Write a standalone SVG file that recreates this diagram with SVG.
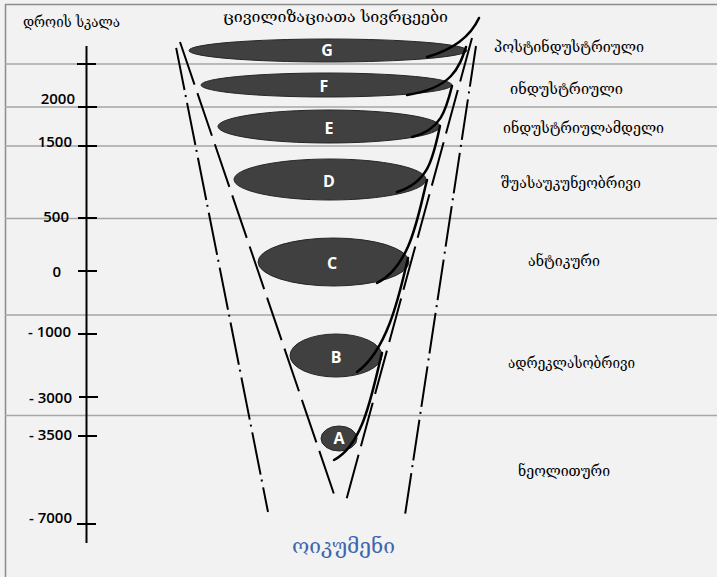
<svg xmlns="http://www.w3.org/2000/svg" width="717" height="577" viewBox="0 0 717 577">
<style>
.grid{stroke:#a6a6a6;stroke-width:1.5}
.frame{stroke:#8c8c8c;stroke-width:1.5}
.axis{stroke:#000;stroke-width:2}
.num{font-family:"Open Sans","Liberation Sans",sans-serif;font-weight:600;font-size:15px;fill:#000;text-anchor:end}
.geo{font-family:"DejaVu Serif","DejaVu Sans",serif;font-size:14px;fill:#000}
.ell{fill:#404040;stroke:#262626;stroke-width:1}
.let{font-family:"Open Sans","Liberation Sans",sans-serif;font-weight:700;font-size:16px;fill:#fff;text-anchor:middle}
.outer{stroke:#000;stroke-width:2;fill:none}
.inner{stroke:#000;stroke-width:2;fill:none;stroke-dasharray:45 9}
.spiral{stroke:#000;stroke-width:2.5;fill:none;stroke-linecap:round}
</style>
<rect x="0" y="0" width="717" height="577" fill="#f2f2f2"/>
<g id="frame">
<line class="frame" x1="5" y1="4.5" x2="717" y2="4.5"/>
<line class="frame" x1="5.5" y1="4" x2="5.5" y2="577"/>
</g>
<g id="grid">
<line class="grid" x1="5" y1="64" x2="717" y2="64"/>
<line class="grid" x1="5" y1="107" x2="717" y2="107"/>
<line class="grid" x1="5" y1="146" x2="717" y2="146"/>
<line class="grid" x1="5" y1="218.5" x2="717" y2="218.5"/>
<line class="grid" x1="5" y1="315" x2="717" y2="315"/>
<line class="grid" x1="5" y1="415.5" x2="717" y2="415.5"/>
</g>
<g id="axis">
<line class="axis" x1="86.5" y1="46" x2="86.5" y2="543"/>
<line class="axis" x1="77" y1="64" x2="96" y2="64"/>
<line class="axis" x1="78" y1="107" x2="97" y2="107"/>
<line class="axis" x1="78" y1="146" x2="97" y2="146"/>
<line class="axis" x1="78" y1="218" x2="97" y2="218"/>
<line class="axis" x1="78" y1="271" x2="97" y2="271"/>
<line class="axis" x1="78" y1="334" x2="97" y2="334"/>
<line class="axis" x1="79" y1="397" x2="98" y2="397"/>
<line class="axis" x1="78" y1="436" x2="97" y2="436"/>
<line class="axis" x1="77" y1="524" x2="96" y2="524"/>
<text class="num" x="75" y="104">2000</text>
<text class="num" x="72" y="147">1500</text>
<text class="num" x="69" y="222">500</text>
<text class="num" x="61" y="277">0</text>
<text class="num" x="71" y="337">- 1000</text>
<text class="num" x="72" y="403">- 3000</text>
<text class="num" x="72" y="440">- 3500</text>
<text class="num" x="72" y="523">- 7000</text>
<text class="geo" x="23" y="27" textLength="97" lengthAdjust="spacingAndGlyphs">დროის სკალა</text>
</g>
<text class="geo" x="223" y="22" textLength="225" lengthAdjust="spacingAndGlyphs" style="font-size:15px">ცივილიზაციათა  სივრცეები</text>
<g id="node-G"><ellipse class="ell" cx="328" cy="50.5" rx="139" ry="11.5"/><text class="let" x="327" y="56">G</text></g>
<g id="node-F"><ellipse class="ell" cx="326.5" cy="85" rx="125.5" ry="12"/><text class="let" x="324" y="92">F</text></g>
<g id="node-E"><ellipse class="ell" cx="329" cy="126.5" rx="111" ry="16.5"/><text class="let" x="329" y="134">E</text></g>
<g id="node-D"><ellipse class="ell" cx="330" cy="179.5" rx="96" ry="20.5"/><text class="let" x="329" y="187">D</text></g>
<g id="node-C"><ellipse class="ell" cx="333.5" cy="262" rx="75.5" ry="24"/><text class="let" x="332" y="269">C</text></g>
<g id="node-B"><ellipse class="ell" cx="336" cy="355.5" rx="46" ry="21.5"/><text class="let" x="336" y="363">B</text></g>
<g id="node-A"><ellipse class="ell" cx="339" cy="438.5" rx="18" ry="12.5"/><text class="let" x="339" y="444">A</text></g>
<g id="connectors">
<line class="outer" x1="175" y1="42" x2="268" y2="512" stroke-dasharray="43 5 2 6" stroke-dashoffset="-6"/>
<line class="inner" x1="180" y1="42" x2="336" y2="500"/>
<line class="inner" x1="472" y1="38" x2="346" y2="501"/>
<line class="outer" x1="476" y1="46" x2="405" y2="515" stroke-dasharray="41 5 2 6"/>
<path class="spiral" d="M479,18 Q466,46 427,57"/>
<path class="spiral" d="M466,47 C459,68 452,88 407,95"/>
<path class="spiral" d="M452,86 C446,110 441,130 412,137"/>
<path class="spiral" d="M440,126 C433,158 429,182 397,192"/>
<path class="spiral" d="M427,180 C418,215 411,266 377,283"/>
<path class="spiral" d="M408,258 C400,292 388,350 357,372"/>
<path class="spiral" d="M382,353 C372,392 364,444 334,460"/>
</g>
<g id="labels">
<text class="geo" x="494" y="52" textLength="150" lengthAdjust="spacingAndGlyphs">პოსტინდუსტრიული</text>
<text class="geo" x="510" y="94" textLength="113" lengthAdjust="spacingAndGlyphs">ინდუსტრიული</text>
<text class="geo" x="503" y="133" textLength="161" lengthAdjust="spacingAndGlyphs">ინდუსტრიულამდელი</text>
<text class="geo" x="501" y="188" textLength="140" lengthAdjust="spacingAndGlyphs">შუასაუკუნეობრივი</text>
<text class="geo" x="528" y="266" textLength="72" lengthAdjust="spacingAndGlyphs">ანტიკური</text>
<text class="geo" x="508" y="368" textLength="127" lengthAdjust="spacingAndGlyphs">ადრეკლასობრივი</text>
<text class="geo" x="518" y="476" textLength="92" lengthAdjust="spacingAndGlyphs">ნეოლითური</text>
<text x="292" y="553" textLength="103" lengthAdjust="spacingAndGlyphs" style="font-family:'DejaVu Serif','DejaVu Sans',serif;font-size:20px;fill:#3d66ae">ოიკუმენი</text>
</g>
</svg>
